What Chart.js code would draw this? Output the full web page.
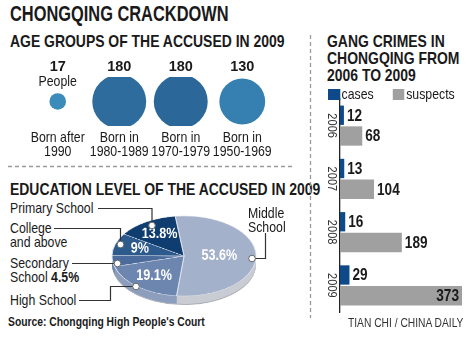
<!DOCTYPE html>
<html>
<head>
<meta charset="utf-8">
<script src="https://cdn.jsdelivr.net/npm/chart.js@4.4.1/dist/chart.umd.min.js"></script>
<style>
  html, body { margin: 0; padding: 0; background: #fff; }
  body {
    width: 470px; height: 339px; position: relative; overflow: hidden;
    font-family: 'Liberation Sans', Arial, sans-serif;
    color: #1a1a1a;
  }
  .abs { position: absolute; white-space: nowrap; transform: scaleX(0.82); transform-origin: 0 0; }
  .title { left: 10px; top: 1px; font-size: 22px; font-weight: bold; transform: scaleX(0.745); }
  .head { font-size: 17px; font-weight: bold; line-height: 17px; }
  .lbl { font-size: 15px; line-height: 14px; }
  .src { left: 8px; top: 315px; font-size: 12px; font-weight: bold; transform: scaleX(0.86); }
  .credit { left: 348px; top: 316px; font-size: 12.5px; color: #333; }
  .legend { top: 86px; font-size: 15px; line-height: 15px; }
  .legend i { display: inline-block; width: 14.6px; height: 11px; vertical-align: -1px; margin-right: 2px; }
  canvas { position: absolute; }
  #pie { transform: scaleY(0.556); transform-origin: 50% 50%; }
  svg { position: absolute; left: 0; top: 0; }
</style>
</head>
<body>

<div class="abs title">CHONGQING CRACKDOWN</div>
<div class="abs head" style="left:10px; top:33px;">AGE GROUPS OF THE ACCUSED IN 2009</div>
<div class="abs head" style="left:10px; top:181px;">EDUCATION LEVEL OF THE ACCUSED IN 2009</div>
<div class="abs head" style="left:327px; top:33px;">GANG CRIMES IN<br>CHONGQING FROM<br>2006 TO 2009</div>

<canvas id="bubbles" width="300" height="108" style="left:0; top:50px;"></canvas>
<canvas id="pie" width="180" height="180" style="left:94px; top:166px;"></canvas>
<canvas id="bars" width="152" height="222" style="left:318px; top:95px;"></canvas>

<div class="abs legend" id="gangLegend" style="left:328px;"></div>

<div class="abs lbl" style="left:10px; top:201px;">Primary School</div>
<div class="abs lbl" style="left:10px; top:221px;">College<br>and above</div>
<div class="abs lbl" style="left:10px; top:256px;">Secondary<br>School <b>4.5%</b></div>
<div class="abs lbl" style="left:10px; top:293px;">High School</div>
<div class="abs lbl" style="left:248px; top:206px;">Middle<br>School</div>

<div class="abs src">Source: Chongqing High People's Court</div>
<div class="abs credit">TIAN CHI / CHINA DAILY</div>

<svg width="470" height="339">
  <g stroke="#9a9a9a" stroke-width="1.3" stroke-dasharray="4 3" fill="none">
    <line x1="8" y1="166.5" x2="292" y2="166.5"/>
    <line x1="310.5" y1="35" x2="310.5" y2="318"/>
  </g>
  <g stroke="#333" stroke-width="1.2" fill="none">
    <polyline points="98,208.5 152,208.5 152,225"/>
    <polyline points="54,228.5 120.5,228.5 120.5,244"/>
    <polyline points="72,263.5 117,263.5"/>
    <polyline points="79,300.5 110.5,300.5 110.5,286.5 135,286.5"/>
    <polyline points="252,258.5 265.5,258.5 265.5,233"/>
  </g>
  <g stroke="#666" stroke-width="1" fill="#fff">
    <circle cx="152" cy="225.5" r="3.3"/>
    <circle cx="120.5" cy="244.5" r="3.3"/>
    <circle cx="117.5" cy="263.5" r="3.3"/>
    <circle cx="136" cy="286.5" r="3.3"/>
    <circle cx="252" cy="258.5" r="3.3"/>
  </g>
</svg>

<script>
const FONT = "'Liberation Sans', Arial, sans-serif";
const NARROW = 0.82;

// age groups of the accused, 2009
const ageGroups = [['Born after', '1990'], ['Born in', '1980-1989'], ['Born in', '1970-1979'], ['Born in', '1950-1969']];
const ageCounts = [17, 180, 180, 130];

// education level of the accused, 2009 (percent, clockwise from top)
const eduLevels = ['Middle School', 'High School', 'Secondary School', 'College and above', 'Primary School'];
const eduShares = [53.6, 19.1, 4.5, 9, 13.8];

// gang crimes 2006-2009
const years = ['2006', '2007', '2008', '2009'];
const gangCases = [12, 13, 16, 29];
const gangSuspects = [68, 104, 189, 373];

const bubbleColors = ['#3b8bbb', '#2d6c9c', '#2b6899', '#3580b1'];
const eduColors = ['#a4b1cb', '#6d86b0', '#4b6b9c', '#2c5a8d', '#103d6f'];
const eduSides = ['#c9ccd3', '#8d9ebd', '#7186ab', '#5f77a0', '#4d6590'];

// condensed text: squeeze horizontally around the anchor point
function narrowText(ctx, txt, x, y, sx = NARROW, sy = 1) {
  ctx.save();
  ctx.translate(x, y);
  ctx.scale(sx, sy);
  ctx.fillText(txt, 0, 0);
  ctx.restore();
}

// count labels above each bubble, group labels below
const bubbleText = {
  id: 'bubbleText',
  afterDatasetsDraw(chart) {
    const ctx = chart.ctx;
    const { top, bottom } = chart.chartArea;
    ctx.save();
    ctx.textAlign = 'center';
    ctx.textBaseline = 'middle';
    ctx.fillStyle = '#1a1a1a';
    chart.getDatasetMeta(0).data.forEach((el, i) => {
      ctx.font = 'bold 14.5px ' + FONT;
      ctx.fillText(String(ageCounts[i]), el.x, top - 10);
      ctx.font = '15px ' + FONT;
      if (i === 0) narrowText(ctx, 'People', el.x, top + 5);
      ageGroups[i].forEach((line, j) => narrowText(ctx, line, el.x, bottom + 12 + j * 14));
    });
    ctx.restore();
  }
};

new Chart(document.getElementById('bubbles'), {
  type: 'bubble',
  data: {
    labels: ageGroups,
    datasets: [{
      data: ageCounts.map((c, i) => ({ x: i, y: 0, r: 2.01 * Math.sqrt(c) })),
      backgroundColor: bubbleColors,
      borderWidth: 0
    }]
  },
  options: {
    responsive: false,
    animation: false,
    layout: { padding: { top: 22, left: 1, right: 0, bottom: 32 } },
    plugins: { legend: { display: false }, tooltip: { enabled: false } },
    scales: {
      x: { type: 'category', offset: true, display: false },
      y: { display: false, min: -1, max: 1 }
    }
  },
  plugins: [bubbleText]
});

// pie side wall and inner percentage labels
const PIE_SQUASH = 0.556;
const pieSide = {
  id: 'pieSide',
  beforeDatasetsDraw(chart) {
    const ctx = chart.ctx;
    const arcs = chart.getDatasetMeta(0).data;
    const depth = 16;
    ctx.save();
    for (let k = depth; k >= 1; k--) {
      arcs.forEach((a, i) => {
        ctx.beginPath();
        ctx.moveTo(a.x, a.y + k);
        ctx.arc(a.x, a.y + k, a.outerRadius, a.startAngle, a.endAngle);
        ctx.closePath();
        ctx.fillStyle = k >= depth - 1 ? '#aeb3bc' : eduSides[i];
        ctx.fill();
      });
    }
    ctx.restore();
  },
  afterDatasetsDraw(chart) {
    const ctx = chart.ctx;
    ctx.save();
    ctx.fillStyle = '#fff';
    ctx.textAlign = 'center';
    ctx.textBaseline = 'middle';
    ctx.font = 'bold 15px ' + FONT;
    chart.getDatasetMeta(0).data.forEach((a, i) => {
      if (eduShares[i] < 5) return;
      const mid = (a.startAngle + a.endAngle) / 2;
      const f = eduShares[i] > 50 ? 0.49 : 0.64;
      const x = a.x + Math.cos(mid) * a.outerRadius * f;
      const y = a.y + Math.sin(mid) * a.outerRadius * f;
      narrowText(ctx, eduShares[i] + '%', x, y, 0.84, 1 / PIE_SQUASH);
    });
    ctx.restore();
  }
};

new Chart(document.getElementById('pie'), {
  type: 'pie',
  data: {
    labels: eduLevels,
    datasets: [{
      data: eduShares,
      backgroundColor: eduColors,
      borderColor: '#dfe4ee',
      borderWidth: 1
    }]
  },
  options: {
    responsive: false,
    animation: false,
    rotation: -7,
    radius: 72,
    plugins: { legend: { display: false }, tooltip: { enabled: false } }
  },
  plugins: [pieSide]
});

// gang crimes bars
const barColors = ['#0e4a89', '#a0a0a0'];
document.getElementById('gangLegend').innerHTML =
  '<i style="background:' + barColors[0] + '"></i>cases' +
  '<span style="display:inline-block;width:23px"></span>' +
  '<i style="background:' + barColors[1] + '"></i>suspects';

const barDecor = {
  id: 'barDecor',
  afterDatasetsDraw(chart) {
    const ctx = chart.ctx;
    const area = chart.chartArea;
    const yScale = chart.scales.y;
    const sx = 0.85;
    ctx.save();
    // value labels at the bar ends
    ctx.textBaseline = 'middle';
    ctx.fillStyle = '#1a1a1a';
    ctx.font = 'bold 16px ' + FONT;
    chart.data.datasets.forEach((ds, di) => {
      chart.getDatasetMeta(di).data.forEach((bar, i) => {
        const txt = String(ds.data[i]);
        const w = ctx.measureText(txt).width * sx;
        if (bar.x + 3 + w > area.right) {
          ctx.textAlign = 'right';
          narrowText(ctx, txt, bar.x - 3, bar.y + 1, sx);
        } else {
          ctx.textAlign = 'left';
          narrowText(ctx, txt, bar.x + 3, bar.y + 1, sx);
        }
      });
    });
    // rotated year labels
    ctx.font = '13px ' + FONT;
    ctx.fillStyle = '#333';
    ctx.textAlign = 'center';
    years.forEach((yr, i) => {
      ctx.save();
      ctx.translate(area.left - 8, yScale.getPixelForValue(i));
      ctx.rotate(Math.PI / 2);
      narrowText(ctx, yr, 0, 0, 0.85);
      ctx.restore();
    });
    ctx.restore();
  }
};

new Chart(document.getElementById('bars'), {
  type: 'bar',
  data: {
    labels: years,
    datasets: [
      { label: 'cases', data: gangCases, backgroundColor: barColors[0], categoryPercentage: 0.78, barPercentage: 0.93 },
      { label: 'suspects', data: gangSuspects, backgroundColor: barColors[1], categoryPercentage: 0.78, barPercentage: 0.93 }
    ]
  },
  options: {
    indexAxis: 'y',
    responsive: false,
    animation: false,
    layout: { padding: { top: 4, right: 8, bottom: 5, left: 0 } },
    plugins: { legend: { display: false }, tooltip: { enabled: false } },
    scales: {
      x: { display: false, min: 0, max: Math.max(...gangSuspects) },
      y: {
        grid: { display: false, drawTicks: false },
        border: { display: true, color: '#222', width: 1.3 },
        ticks: { display: false },
        afterFit(scale) { scale.width = 22; }
      }
    }
  },
  plugins: [barDecor]
});
</script>
</body>
</html>
